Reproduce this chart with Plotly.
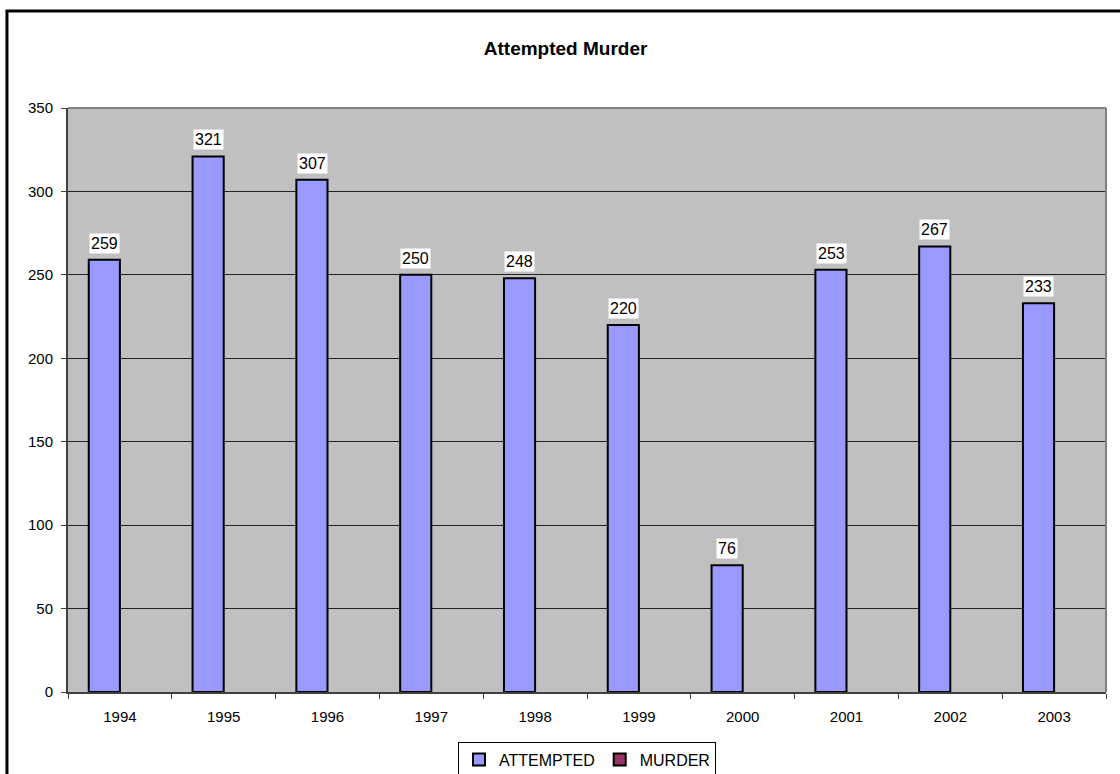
import plotly.graph_objects as go

years = ['1994', '1995', '1996', '1997', '1998', '1999', '2000', '2001', '2002', '2003']
attempted = [259, 321, 307, 250, 248, 220, 76, 253, 267, 233]
murder = [None] * len(years)

font_family = 'Liberation Sans, Arial, sans-serif'

fig = go.Figure(
    data=[
        go.Bar(
            x=years,
            y=attempted,
            name='ATTEMPTED',
            marker=dict(color='#9999FF', line=dict(color='black', width=2)),
            hoverinfo='x+y'
        ),
        go.Bar(
            x=years,
            y=murder,
            name='MURDER',
            marker=dict(color='#993366', line=dict(color='black', width=2)),
        )
    ]
)

# value labels with white boxes, like the Excel data labels
# (category index used for x, numeric-looking strings confuse the category axis)
for idx, val in enumerate(attempted):
    fig.add_annotation(
        x=idx, y=val,
        text=str(val),
        showarrow=False,
        xshift=-15.5,
        yshift=6,
        yanchor='bottom',
        bgcolor='white',
        borderpad=1,
        font=dict(size=16, color='black', family=font_family)
    )

# grey frame on top and right of the plot area
fig.add_shape(type='line', xref='paper', yref='paper', x0=0, x1=1, y0=1, y1=1,
              line=dict(color='#808080', width=2))
fig.add_shape(type='line', xref='paper', yref='paper', x0=1, x1=1, y0=0, y1=1,
              line=dict(color='#808080', width=2))

# outer chart border
fig.add_shape(type='rect', xref='paper', yref='paper',
              x0=-0.0588, x1=1.2, y0=-0.3, y1=1.166,
              line=dict(color='black', width=3))

fig.update_layout(
    width=1120,
    height=774,
    margin=dict(l=68, r=14, t=108, b=82, autoexpand=False),
    paper_bgcolor='white',
    plot_bgcolor='#C0C0C0',
    barmode='group',
    bargap=0.40,
    bargroupgap=0,
    font=dict(family=font_family, size=15, color='black'),
    title=dict(
        text='<b>Attempted Murder</b>',
        x=0.505, xref='container', xanchor='center',
        y=0.937, yref='container', yanchor='middle',
        font=dict(size=19, color='black', family=font_family)
    ),
    legend=dict(
        orientation='h',
        x=0.5, xanchor='center',
        y=-0.085, yanchor='top',
        bordercolor='black',
        borderwidth=1,
        bgcolor='white',
        itemwidth=30,
        font=dict(size=16, color='black', family=font_family)
    ),
    showlegend=True
)

fig.update_xaxes(
    type='category',
    range=[-0.5, len(years) - 0.5],
    showgrid=False,
    showline=True,
    linecolor='#404040',
    linewidth=2,
    ticks='outside',
    tickson='boundaries',
    ticklen=5,
    tickcolor='#404040',
    ticklabelstandoff=10,
    tickangle=0,
    tickfont=dict(size=15)
)

fig.update_yaxes(
    range=[0, 350],
    dtick=50,
    showgrid=True,
    gridcolor='#222222',
    gridwidth=1,
    showline=True,
    linecolor='#404040',
    linewidth=2,
    ticks='outside',
    ticklen=5,
    tickcolor='#404040',
    ticklabelstandoff=5,
    zeroline=False,
    tickfont=dict(size=15)
)

# drop the default page margin so the figure fills the window exactly
fig.write_html(
    "out.html",
    config={'displayModeBar': False},
    post_script="document.body.style.margin = '0';"
)
